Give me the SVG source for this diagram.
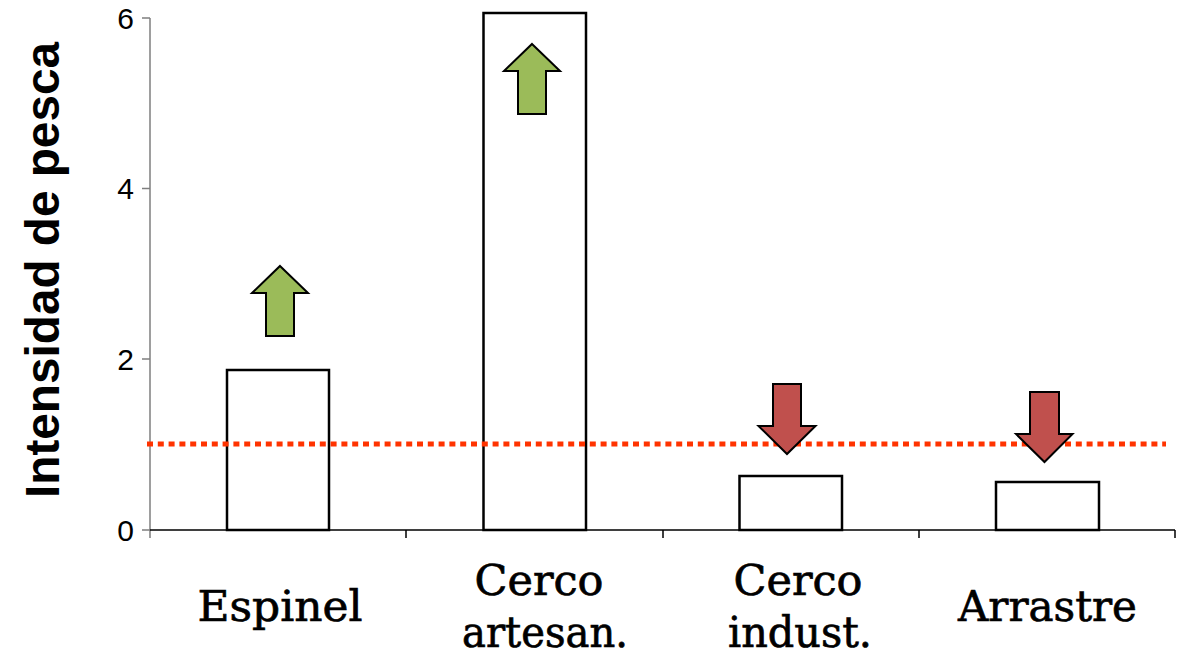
<svg xmlns="http://www.w3.org/2000/svg" width="1179" height="659" viewBox="0 0 1179 659">
<style>
.axis{stroke:#7f7f7f;stroke-width:1.5;fill:none}
.xaxis{stroke:#000;stroke-width:1.5;fill:none}
.bar{fill:#fff;stroke:#000;stroke-width:2.5}
.up{fill:#9bbb59;stroke:#000;stroke-width:2;stroke-linejoin:miter}
.down{fill:#c0504d;stroke:#000;stroke-width:2;stroke-linejoin:miter}
.tick{font-family:"Liberation Sans",Arial,sans-serif;font-size:30px;fill:#000;text-anchor:end}
.cat{font-family:"DejaVu Serif","Liberation Serif",serif;font-size:43px;fill:#000;stroke:#000;stroke-width:0.7;text-anchor:middle}
.ylab{font-family:"Liberation Sans",Arial,sans-serif;font-size:48px;font-weight:bold;fill:#000;text-anchor:middle}
.ref{stroke:#ff3300;stroke-width:5;stroke-dasharray:6 4.8;fill:none}
</style>
<rect width="1179" height="659" fill="#fff"/>
<g id="axes">
<path class="axis" d="M150,18V538M142,18H150M142,188.5H150M142,359H150M142,530H150"/>
<path class="xaxis" d="M150,530H1175M406,530V538M663,530V538M919,530V538M1175,530V538"/>
<text class="tick" x="134" y="29">6</text>
<text class="tick" x="134" y="199">4</text>
<text class="tick" x="134" y="370">2</text>
<text class="tick" x="134" y="541">0</text>
<text class="ylab" transform="translate(59,270) rotate(-90)" textLength="456" lengthAdjust="spacingAndGlyphs">Intensidad de pesca</text>
</g>
<g id="bar-espinel"><rect class="bar" x="227" y="370" width="102" height="160"/></g>
<g id="bar-cerco-artesan"><rect class="bar" x="483.5" y="13" width="102.5" height="517"/></g>
<g id="bar-cerco-indust"><rect class="bar" x="739.5" y="476" width="102.5" height="54"/></g>
<g id="bar-arrastre"><rect class="bar" x="996" y="482" width="103" height="48"/></g>
<g id="reference-line"><path class="ref" d="M147,444H1166"/></g>
<g id="arrow-espinel"><path class="up" d="M280,266L308,293H294V336H266V293H252Z"/></g>
<g id="arrow-cerco-artesan"><path class="up" d="M532,44L560,71H546V114H518V71H504Z"/></g>
<g id="arrow-cerco-indust"><path class="down" d="M773,384H801V426H815.5L787,454L758.5,426H773Z"/></g>
<g id="arrow-arrastre"><path class="down" d="M1030,392H1059V434H1072.5L1044.5,462L1016,434H1030Z"/></g>
<g id="labels">
<text class="cat" x="280" y="621" textLength="165" lengthAdjust="spacingAndGlyphs">Espinel</text>
<text class="cat" x="539" y="595" textLength="129" lengthAdjust="spacingAndGlyphs">Cerco</text>
<text class="cat" x="545" y="647" textLength="166" lengthAdjust="spacingAndGlyphs">artesan.</text>
<text class="cat" x="798" y="595" textLength="129" lengthAdjust="spacingAndGlyphs">Cerco</text>
<text class="cat" x="800" y="647" textLength="144" lengthAdjust="spacingAndGlyphs">indust.</text>
<text class="cat" x="1047.5" y="621" textLength="179" lengthAdjust="spacingAndGlyphs">Arrastre</text>
</g>
</svg>
